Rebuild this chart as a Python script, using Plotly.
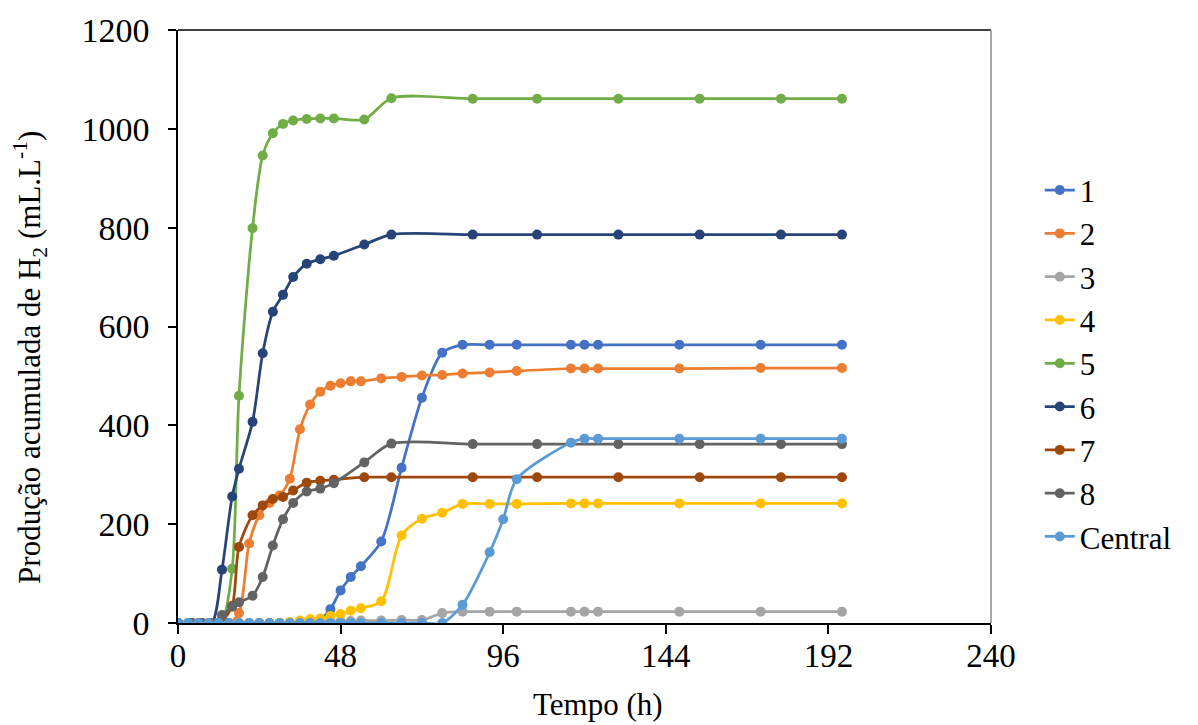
import plotly.graph_objects as go

# Sampling times (h)
t_a = [0, 3, 6, 9, 12, 15, 18, 21, 24, 27, 30, 33, 36, 39, 42, 45, 48, 51, 54,
       60, 66, 72, 78, 84, 92, 100, 116, 120, 124, 148, 172, 196]
t_b = [0, 4, 7, 10, 13, 16, 18, 22, 25, 28, 31, 34, 38, 42, 46, 55, 63,
       87, 106, 130, 154, 178, 196]
t_central = [0, 3, 6, 9, 12, 15, 18, 21, 24, 27, 30, 33, 36, 39, 42, 45, 48, 51, 54,
             60, 66, 72, 78, 84, 92, 96, 100, 116, 120, 124, 148, 172, 196]

# Cumulative H2 production (mL/L)
h2_1 = [0, 0, 0, 0, 0, 0, 0, 0, 0, 0, 0, 0, 0, 2, 8, 28, 66, 93, 115,
        165, 314, 456, 547, 563, 563, 563, 563, 563, 563, 563, 563, 563]
h2_2 = [0, 0, 0, 0, 0, 0, 20, 161, 218, 243, 258, 292, 392, 442, 468, 480, 485, 489, 489,
        495, 498, 501, 502, 505, 507, 510, 515, 515, 515, 515, 516, 516]
h2_3 = [0, 0, 0, 0, 0, 0, 0, 0, 0, 0, 0, 0, 2, 3, 3, 4, 4, 4, 5,
        5, 6, 6, 20, 23, 23, 23, 23, 23, 23, 23, 23, 23]
h2_4 = [0, 0, 0, 0, 0, 0, 0, 0, 0, 0, 0, 2, 5, 8, 9, 14, 18, 25, 30,
        44, 177, 211, 223, 241, 241, 241, 242, 242, 242, 242, 242, 242]
h2_5 = [0, 0, 0, 0, 5, 110, 460, 799, 946, 991, 1010, 1017, 1020, 1021, 1021, 1019, 1062,
        1061, 1061, 1061, 1061, 1061, 1061]
h2_6 = [0, 0, 0, 0, 108, 256, 312, 407, 546, 630, 664, 700, 727, 736, 743, 766, 786,
        786, 786, 786, 786, 786, 786]
h2_7 = [0, 0, 0, 0, 5, 35, 154, 218, 238, 251, 255, 268, 284, 288, 290, 295, 295,
        295, 295, 295, 295, 295, 295]
h2_8 = [0, 0, 0, 0, 16, 33, 42, 55, 93, 157, 210, 243, 266, 272, 283, 325, 363,
        362, 362, 362, 362, 362, 362]
h2_central = [0, 0, 0, 0, 0, 0, 0, 0, 0, 0, 0, 0, 0, 0, 0, 0, 0, 0, 0,
              0, 0, 0, 0, 37, 143, 210, 291, 365, 373, 373, 373, 373, 373]

series = [
    ("1", t_a, h2_1, "#4472C4"),
    ("2", t_a, h2_2, "#ED7D31"),
    ("3", t_a, h2_3, "#A5A5A5"),
    ("4", t_a, h2_4, "#FFC000"),
    ("5", t_b, h2_5, "#70AD47"),
    ("6", t_b, h2_6, "#264478"),
    ("7", t_b, h2_7, "#9E480E"),
    ("8", t_b, h2_8, "#636363"),
    ("Central", t_central, h2_central, "#5B9BD5"),
]

FONT = "Liberation Serif, Times New Roman, serif"

fig = go.Figure()
for name, t, y, color in series:
    fig.add_trace(go.Scatter(
        x=t, y=y, name=name, legendgroup=name,
        mode="lines+markers",
        line=dict(color=color, width=2.75, shape="spline", smoothing=0.8),
        marker=dict(color=color, size=10),
    ))

fig.update_layout(
    width=1198, height=725,
    margin=dict(l=178, r=207, t=28, b=102),
    paper_bgcolor="white", plot_bgcolor="white",
    font=dict(family=FONT, size=30, color="black"),
    showlegend=True,
    legend=dict(
        x=1.06, y=0.775, xanchor="left", yanchor="top",
        font=dict(family=FONT, size=31, color="black"),
        tracegroupgap=0, itemwidth=30,
        bgcolor="rgba(0,0,0,0)",
    ),
    xaxis=dict(
        range=[0, 240], tickvals=[0, 48, 96, 144, 192, 240],
        showline=True, linecolor="black", linewidth=1.5,
        ticks="outside", ticklen=9, tickcolor="black", tickwidth=1.5,
        showgrid=False, zeroline=False,
        tickfont=dict(family=FONT, size=33),
        ticklabelstandoff=-6,
    ),
    yaxis=dict(
        range=[0, 1200], tickvals=[0, 200, 400, 600, 800, 1000, 1200],
        showline=True, linecolor="black", linewidth=1.5,
        ticks="outside", ticklen=8, tickcolor="black", tickwidth=1.5,
        showgrid=False, zeroline=False,
        tickfont=dict(family=FONT, size=34),
        ticklabelstandoff=12,
    ),
    annotations=[
        dict(text="Tempo (h)", xref="paper", yref="paper",
             x=(598 - 178) / 813, y=-(705 - 623) / 595,
             xanchor="center", yanchor="middle", showarrow=False,
             font=dict(family=FONT, size=31)),
        dict(text="Produção acumulada de H<sub>2</sub> (mL.L<sup>-1</sup>)",
             xref="paper", yref="paper",
             x=(30 - 178) / 813, y=(623 - 357) / 595, textangle=-90,
             xanchor="center", yanchor="middle", showarrow=False,
             font=dict(family=FONT, size=31)),
    ],
    shapes=[
        dict(type="line", xref="paper", yref="paper", x0=0, x1=1, y0=1, y1=1,
             line=dict(color="black", width=1.5)),
        dict(type="line", xref="paper", yref="paper", x0=1, x1=1, y0=0, y1=1,
             line=dict(color="#8c8c8c", width=1.5)),
    ],
)

fig.write_html("out.html")
